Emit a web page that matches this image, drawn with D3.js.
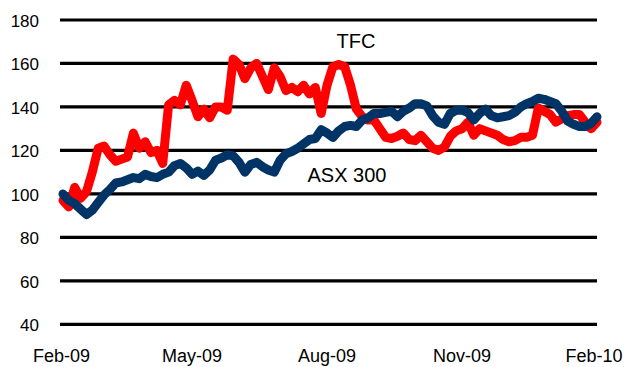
<!DOCTYPE html>
<html><head><meta charset="utf-8">
<script src="https://cdn.jsdelivr.net/npm/d3@7"></script>
<style>body{margin:0;background:#fff}svg{display:block}</style>
</head><body>
<svg id="c" width="627" height="367"></svg>
<script>
const dates = ["2009-02-02","2009-02-06","2009-02-10","2009-02-14","2009-02-18","2009-02-22","2009-02-26",
"2009-03-02","2009-03-06","2009-03-10","2009-03-14","2009-03-18","2009-03-22","2009-03-26","2009-03-30",
"2009-04-03","2009-04-07","2009-04-11","2009-04-15","2009-04-19","2009-04-23","2009-04-27",
"2009-05-01","2009-05-05","2009-05-09","2009-05-13","2009-05-17","2009-05-21","2009-05-25","2009-05-29",
"2009-06-02","2009-06-06","2009-06-10","2009-06-14","2009-06-18","2009-06-22","2009-06-26","2009-06-30",
"2009-07-04","2009-07-08","2009-07-12","2009-07-16","2009-07-20","2009-07-24","2009-07-28",
"2009-08-01","2009-08-05","2009-08-09","2009-08-13","2009-08-17","2009-08-21","2009-08-25","2009-08-29",
"2009-09-02","2009-09-06","2009-09-10","2009-09-14","2009-09-18","2009-09-22","2009-09-26","2009-09-30",
"2009-10-04","2009-10-08","2009-10-12","2009-10-16","2009-10-20","2009-10-24","2009-10-28",
"2009-11-01","2009-11-05","2009-11-09","2009-11-13","2009-11-17","2009-11-21","2009-11-25","2009-11-29",
"2009-12-03","2009-12-07","2009-12-11","2009-12-15","2009-12-19","2009-12-23","2009-12-27","2009-12-31",
"2010-01-04","2010-01-08","2010-01-12","2010-01-16","2010-01-20","2010-01-24","2010-01-28","2010-02-01"];

const tfc = [97,94,103,98,101,110,121,122,118,115,116,117,128,121,124,119,120,114,
141,143,141,150,143,135.5,139,135,140,140,138.5,162,159.5,153,158,160,154,148,158,154,
147.5,149,147,150,146,149,137,150,158.5,159.5,158.5,150,139,135.5,134,134,130,126,125.5,
126.5,128,125,124.5,127,124,121,120,121.5,126.5,129,130,133,127,130,129,128,127,125,124,
124.5,126,126,127,139.5,138,136.5,133,134.5,136,136.5,136.5,133,130,133];

const asx = [100,97,95.5,93,90.5,92.5,96,99.5,102,105,105.5,106.5,107.5,107,109,108,107.5,109,
110,113,114,112,109,110.5,108.5,111,115.5,116.5,118,117.5,114.5,110,113.5,114.5,112.5,111,110,
115.5,118.5,119.5,121,123,125,125.5,129.5,128,126,129,131,131.5,131,134,135,137,137,137.5,138,
135.5,138,139.5,141.5,141.5,140.5,136,133,132,137,138.5,138.5,137.5,134,137,139,136,135,135.5,
136,137.5,140,141.5,142.5,144,143.5,142.5,141.5,138,133.5,132,131,131,132.5,135.5];

const yTicks = [40,60,80,100,120,140,160,180];
const xTickDates = ["2009-02-01","2009-05-01","2009-08-01","2009-11-01","2010-02-01"];
const xTickLabels = ["Feb-09","May-09","Aug-09","Nov-09","Feb-10"];
const seriesNames = ["TFC","ASX 300"];

const parse = d3.timeParse("%Y-%m-%d");
const svg = d3.select("#c");
const x = d3.scaleTime().domain([parse("2009-02-01"), parse("2010-02-01")]).range([61.5, 597]);
const y = d3.scaleLinear().domain([40,180]).range([324.3, 20]);

// gridlines
svg.append("g").selectAll("line").data(yTicks).join("line")
  .attr("x1", 60).attr("x2", 597)
  .attr("y1", d => y(d)).attr("y2", d => y(d))
  .attr("stroke", "#000").attr("stroke-width", 3.2);

// y labels
svg.append("g").selectAll("text").data(yTicks).join("text")
  .attr("x", 39).attr("y", d => y(d) + 7)
  .attr("text-anchor", "end")
  .attr("font-family", "Liberation Sans, Arial, sans-serif")
  .attr("font-size", 17).attr("fill", "#000")
  .text(d => d);

// x labels
svg.append("g").selectAll("text").data(xTickDates).join("text")
  .attr("x", (d,i) => Math.min(x(parse(d)), 594))
  .attr("y", 362)
  .attr("text-anchor", "middle")
  .attr("font-family", "Liberation Sans, Arial, sans-serif")
  .attr("font-size", 18).attr("fill", "#000")
  .text((d,i) => xTickLabels[i]);

const line = d3.line().x((d,i) => x(parse(dates[i]))).y(d => y(d)).curve(d3.curveLinear);

svg.append("path").datum(tfc).attr("d", line)
  .attr("fill","none").attr("stroke","#ff0000").attr("stroke-width",9)
  .attr("stroke-linejoin","round").attr("stroke-linecap","round");
svg.append("path").datum(asx).attr("d", line)
  .attr("fill","none").attr("stroke","#003366").attr("stroke-width",9)
  .attr("stroke-linejoin","round").attr("stroke-linecap","round");

// series labels
svg.append("text").attr("x", 356).attr("y", 48).attr("text-anchor","middle")
  .attr("font-family", "Liberation Sans, Arial, sans-serif").attr("font-size", 20)
  .text(seriesNames[0]);
svg.append("text").attr("x", 347).attr("y", 182).attr("text-anchor","middle")
  .attr("font-family", "Liberation Sans, Arial, sans-serif").attr("font-size", 20)
  .text(seriesNames[1]);
</script>
</body></html>
